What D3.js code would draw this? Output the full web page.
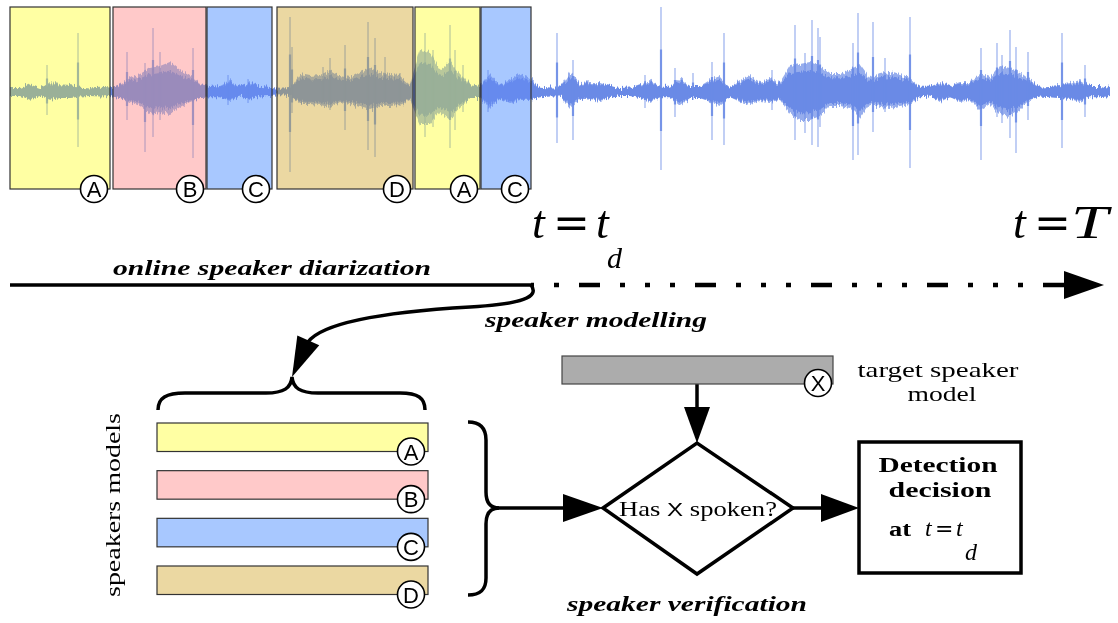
<!DOCTYPE html>
<html>
<head>
<meta charset="utf-8">
<script src="https://cdn.jsdelivr.net/npm/d3@7"></script>
<style>
  html, body { margin: 0; padding: 0; background: #fff; }
  svg { display: block; }
</style>
</head>
<body>
<svg id="diagram-svg" width="1118" height="623"></svg>
<script>
// ---- data ----
// diarization segments on the time axis (0 .. tEnd)
const segSpeakers = ["A", "B", "C", "D", "A", "C"]
const segStart = [0, 103, 197, 267, 405, 471]
const segEnd = [100, 196, 262, 403, 470, 521]
const tDecision = 521
const tEnd = 1100

const speakerColor = { A: "#ffffa3", B: "#ffc9c9", C: "#a8c8ff", D: "#ebd8a2", X: "#acacac" }
const speakerModels = ["A", "B", "C", "D"]

// waveform envelope, one sample every 10 time units (amplitude up / down)
const envStep = 10
const envUp = [3, 3, 8, 3, 10, 8, 7, 5, 4, 5, 4, 8, 14, 18, 24, 26, 30, 22, 16, 8,
  6, 7, 12, 5, 10, 5, 3, 2, 3, 18, 16, 17, 22, 16, 14, 20, 24, 20, 18, 17,
  8, 42, 40, 22, 30, 18, 8, 6, 18, 7, 12, 18, 14, 5, 4, 4, 20, 8, 9, 9,
  6, 3, 4, 8, 12, 5, 5, 14, 6, 6, 12, 16, 5, 12, 16, 10, 13, 10, 26, 28,
  30, 26, 18, 18, 22, 28, 14, 18, 20, 17, 14, 5, 5, 10, 6, 10, 10, 18, 14, 26,
  24, 20, 12, 5, 6, 7, 9, 12, 6, 6, 3]
const envDown = [3, 3, 8, 3, 8, 6, 6, 4, 3, 4, 3, 6, 10, 14, 22, 20, 22, 15, 10, 6,
  5, 5, 9, 4, 8, 4, 3, 2, 3, 12, 12, 13, 15, 10, 12, 15, 18, 14, 14, 13,
  8, 32, 32, 20, 28, 16, 6, 6, 16, 7, 11, 8, 8, 5, 4, 4, 16, 7, 7, 9,
  6, 3, 3, 6, 10, 5, 5, 14, 6, 6, 10, 14, 5, 10, 12, 9, 10, 8, 22, 28,
  28, 24, 14, 14, 16, 26, 12, 15, 16, 14, 12, 5, 4, 10, 5, 10, 8, 18, 12, 22,
  24, 18, 8, 4, 5, 6, 7, 10, 5, 5, 3]
// isolated peaks of the waveform
const spikeTime = [37, 68, 117, 135, 143, 150, 183, 218, 238, 280, 282, 313, 320, 335, 358, 365, 375, 390,
  415, 423, 440, 445, 453, 478, 547, 563, 578, 635, 651, 665, 683, 702, 714, 762, 785, 795, 802, 808,
  810, 843, 848, 863, 875, 900, 971, 987, 992, 1000, 1006, 1018, 1052, 1075]
const spikeUp = [27, 59, 40, 29, 64, 40, 44, 17, 13, 75, 45, 25, 34, 47, 70, 54, 35, 19,
  59, 42, 67, 42, 27, 22, 59, 32, 12, 17, 85, 24, 19, 30, 59, 22, 67, 39, 72, 64,
  55, 49, 79, 70, 34, 75, 44, 49, 37, 62, 45, 40, 59, 27]
const spikeDown = [23, 55, 28, 60, 45, 28, 66, 13, 11, 80, 21, 12, 18, 38, 58, 65, 14, 14,
  45, 35, 56, 38, 20, 20, 51, 48, 8, 16, 78, 25, 8, 48, 53, 18, 48, 41, 53, 55,
  35, 68, 63, 40, 20, 76, 68, 25, 31, 46, 61, 28, 56, 25]

// ---- drawing ----
const svg = d3.select("#diagram-svg")
const SERIF = "'Liberation Serif', 'DejaVu Serif', serif"
const SANS = "'Liberation Sans', 'DejaVu Sans', sans-serif"
const waveColor = "#6a8ae6"

const x = d3.scaleLinear().domain([0, tEnd]).range([10, 1110])
const amp = d3.scaleLinear().domain([-100, 100]).range([192, -8])   // centre line at y = 92
const boxTop = 7, boxBottom = 189
const lineY = 285

const segments = segSpeakers.map((s, i) => ({ speaker: s, start: segStart[i], end: segEnd[i] }))

function addText(g, str, px, py, o) {
  const t = g.append("text")
    .attr("x", px).attr("y", py)
    .attr("font-family", o.family || SERIF)
    .attr("font-size", o.size)
    .attr("font-style", o.italic ? "italic" : "normal")
    .attr("font-weight", o.bold ? "bold" : "normal")
    .attr("text-anchor", o.anchor || "start")
    .attr("fill", "#000")
    .text(str)
  if (o.width) t.attr("textLength", o.width).attr("lengthAdjust", "spacingAndGlyphs")
  if (o.transform) t.attr("transform", o.transform)
  return t
}

function arrowHead(g, tipX, tipY, dx, dy, len, half) {
  const n = Math.hypot(dx, dy), ux = dx / n, uy = dy / n
  const bx = tipX - ux * len, by = tipY - uy * len
  g.append("path")
    .attr("d", `M${tipX},${tipY}L${bx - uy * half},${by + ux * half}L${bx + uy * half},${by - ux * half}Z`)
    .attr("fill", "#000")
}

function circleLabel(g, cx, cy, letter) {
  g.append("circle").attr("cx", cx).attr("cy", cy).attr("r", 13.5)
    .attr("fill", "#fff").attr("stroke", "#000").attr("stroke-width", 1.6)
  addText(g, letter, cx, cy + 8, { family: SANS, size: 22, anchor: "middle" })
}

// noisy edge for the waveform body (vertical jitter only)
const defs = svg.append("defs")
const jitter = defs.append("filter").attr("id", "jitter")
  .attr("x", "-2%").attr("y", "-30%").attr("width", "104%").attr("height", "160%")
  .attr("color-interpolation-filters", "sRGB")
jitter.append("feTurbulence").attr("type", "fractalNoise").attr("baseFrequency", "0.8 0.03")
  .attr("numOctaves", 2).attr("seed", 7).attr("result", "noise")
jitter.append("feColorMatrix").attr("in", "noise").attr("type", "matrix")
  .attr("values", "0 0 0 0 0.5  0 1 0 0 0  0 0 1 0 0  0 0 0 0 1").attr("result", "shift")
jitter.append("feDisplacementMap").attr("in", "SourceGraphic").attr("in2", "shift")
  .attr("scale", 9).attr("xChannelSelector", "R").attr("yChannelSelector", "G")

function drawWave(g) {
  const body = g.append("g").attr("filter", "url(#jitter)")
  body.append("path")
    .datum(envUp)
    .attr("d", d3.area()
      .x((d, i) => x(i * envStep))
      .y0((d, i) => amp(-envDown[i]))
      .y1(d => amp(d)))
    .attr("fill", waveColor).attr("opacity", 0.7)
  body.append("path")
    .datum(envUp)
    .attr("d", d3.area()
      .x((d, i) => x(i * envStep))
      .y0((d, i) => amp(-envDown[i] * 0.65 - 2))
      .y1(d => amp(d * 0.65 + 2)))
    .attr("fill", waveColor)
  g.selectAll(".spike-core")
    .data(spikeTime)
    .enter()
    .append("line")
    .attr("x1", d => x(d)).attr("x2", d => x(d))
    .attr("y1", (d, i) => amp(spikeUp[i] * 0.5))
    .attr("y2", (d, i) => amp(-spikeDown[i] * 0.5))
    .attr("stroke", waveColor).attr("stroke-width", 2.2).attr("opacity", 0.85)
  g.selectAll(".spike")
    .data(spikeTime)
    .enter()
    .append("line")
    .attr("x1", d => x(d)).attr("x2", d => x(d))
    .attr("y1", (d, i) => amp(spikeUp[i]))
    .attr("y2", (d, i) => amp(-spikeDown[i]))
    .attr("stroke", waveColor).attr("stroke-width", 1.1).attr("opacity", 0.75)
}

// segment boxes: waveform below, colour fill, then waveform tinted through the fill
const clip = defs.append("clipPath").attr("id", "seg-clip")
segments.forEach(d => {
  clip.append("rect").attr("x", x(d.start)).attr("y", boxTop)
    .attr("width", x(d.end) - x(d.start)).attr("height", boxBottom - boxTop)
})

const waveBase = svg.append("g").attr("class", "wave-base")
drawWave(waveBase)

svg.append("g").selectAll("rect")
  .data(segments).enter().append("rect")
  .attr("x", d => x(d.start)).attr("y", boxTop)
  .attr("width", d => x(d.end) - x(d.start)).attr("height", boxBottom - boxTop)
  .attr("fill", d => speakerColor[d.speaker])

const waveTint = svg.append("g").attr("clip-path", "url(#seg-clip)")
  .style("mix-blend-mode", "multiply").attr("opacity", 0.68)
drawWave(waveTint)

const segG = svg.append("g")
segG.selectAll("rect")
  .data(segments).enter().append("rect")
  .attr("x", d => x(d.start)).attr("y", boxTop)
  .attr("width", d => x(d.end) - x(d.start)).attr("height", boxBottom - boxTop)
  .attr("fill", "none").attr("stroke", "#333").attr("stroke-width", 1.2)
segments.forEach(d => circleLabel(segG, x(d.end) - 16, boxBottom, d.speaker))

// time labels
const tl = svg.append("g")
function timeLabel(px, big) {
  addText(tl, "t", px, 238, { size: 46, italic: true })
  tl.append("text").attr("x", px + 21).attr("y", 238)
    .attr("font-family", "'DejaVu Serif', serif").attr("font-size", 44).text("=")
  if (big) {
    addText(tl, "T", px + 58, 238, { size: 46, italic: true, width: 37 })
  } else {
    addText(tl, "t", px + 64, 238, { size: 46, italic: true })
    addText(tl, "d", px + 75, 268, { size: 30, italic: true })
  }
}
timeLabel(x(tDecision) + 1, false)
timeLabel(1013, true)

// timeline
const flow = svg.append("g").attr("fill", "none").attr("stroke", "#000")
flow.append("line").attr("x1", x(0)).attr("x2", x(tDecision)).attr("y1", lineY).attr("y2", lineY)
  .attr("stroke-width", 3.5)
flow.append("line").attr("x1", x(tDecision)).attr("x2", x(tEnd) - 44).attr("y1", lineY).attr("y2", lineY)
  .attr("stroke-width", 4.5).attr("stroke-dasharray", "21 20 5 20 5 20 5 20").attr("stroke-dashoffset", 68)
arrowHead(svg, x(tEnd) - 6, lineY, 1, 0, 40, 14)

addText(svg, "online speaker diarization", 113, 275, { size: 21, bold: true, italic: true, width: 318 })
addText(svg, "speaker modelling", 485, 327, { size: 21, bold: true, italic: true, width: 222 })

// curved arrow to the speakers' models
flow.append("path")
  .attr("d", `M${x(tDecision)},${lineY} C540,297 522,304 470,307 S326,318 308,342`)
  .attr("stroke-width", 3.5)
arrowHead(svg, 292, 377, -16.5, 37, 40, 12)

// top brace
flow.append("path")
  .attr("d", "M158,410 C158,398 166,393 185,393 L266,393 C284,393 291,388 292,377 C293,388 300,393 318,393 L400,393 C418,393 425,398 425,410")
  .attr("stroke-width", 3.5)

// speaker model bars
const yModel = d3.scaleBand().domain(speakerModels).range([423, 594.5]).paddingInner(0.402)
const modelG = svg.append("g")
modelG.selectAll("rect")
  .data(speakerModels).enter().append("rect")
  .attr("x", 157).attr("y", d => yModel(d))
  .attr("width", 271).attr("height", yModel.bandwidth())
  .attr("fill", d => speakerColor[d]).attr("stroke", "#333").attr("stroke-width", 1.2)
speakerModels.forEach(d => circleLabel(modelG, 411, yModel(d) + yModel.bandwidth(), d))

addText(svg, "speakers models", 0, 0, { size: 21, anchor: "middle", width: 184, transform: "translate(120,505) rotate(-90)" })

// right brace and arrow to the verification diamond
flow.append("path")
  .attr("d", "M468,422 C480,422 486,428 486,440 L486,492 C486,502 490,508 499,508 C490,508 486,514 486,524 L486,578 C486,590 480,595 468,595")
  .attr("stroke-width", 3.5)
flow.append("line").attr("x1", 497).attr("x2", 570).attr("y1", 508).attr("y2", 508).attr("stroke-width", 3.5)
arrowHead(svg, 603, 508, 1, 0, 40, 14)

// target speaker model
svg.append("rect").attr("x", 562).attr("y", 356).attr("width", 271).attr("height", 28)
  .attr("fill", speakerColor.X).attr("stroke", "#444").attr("stroke-width", 1.2)
circleLabel(svg, 818, 383, "X")
addText(svg, "target speaker", 938, 377, { size: 21, anchor: "middle", width: 161 })
addText(svg, "model", 942, 401, { size: 21, anchor: "middle", width: 69 })

flow.append("line").attr("x1", 697).attr("x2", 697).attr("y1", 384).attr("y2", 412).attr("stroke-width", 3.5)
arrowHead(svg, 697, 443, 0, 1, 36, 13)

// diamond
flow.append("path").attr("d", "M603,508 L697,443 L793,508 L697,574 Z").attr("stroke-width", 3.5)
const q = svg.append("text").attr("x", 698).attr("y", 516).attr("text-anchor", "middle")
  .attr("font-family", SERIF).attr("font-size", 21)
  .attr("textLength", 158).attr("lengthAdjust", "spacingAndGlyphs")
q.append("tspan").text("Has ")
q.append("tspan").attr("font-family", SANS).attr("font-size", 19).text("X")
q.append("tspan").text(" spoken?")

flow.append("line").attr("x1", 793).attr("x2", 825).attr("y1", 508).attr("y2", 508).attr("stroke-width", 3.5)
arrowHead(svg, 859, 508, 1, 0, 38, 14)

// detection box
flow.append("rect").attr("x", 859).attr("y", 442).attr("width", 162).attr("height", 131).attr("stroke-width", 3.5)
addText(svg, "Detection", 938, 472, { size: 22, bold: true, anchor: "middle", width: 119 })
addText(svg, "decision", 940, 497, { size: 22, bold: true, anchor: "middle", width: 103 })
addText(svg, "at", 889, 536, { size: 20, bold: true, width: 22 })
addText(svg, "t", 925, 536, { size: 24, italic: true })
svg.append("text").attr("x", 935).attr("y", 536).attr("font-family", "'DejaVu Serif', serif")
  .attr("font-size", 22).text("=")
addText(svg, "t", 956, 536, { size: 24, italic: true })
addText(svg, "d", 965, 560, { size: 24, italic: true })

addText(svg, "speaker verification", 567, 611, { size: 21, bold: true, italic: true, width: 240 })
</script>
</body>
</html>
